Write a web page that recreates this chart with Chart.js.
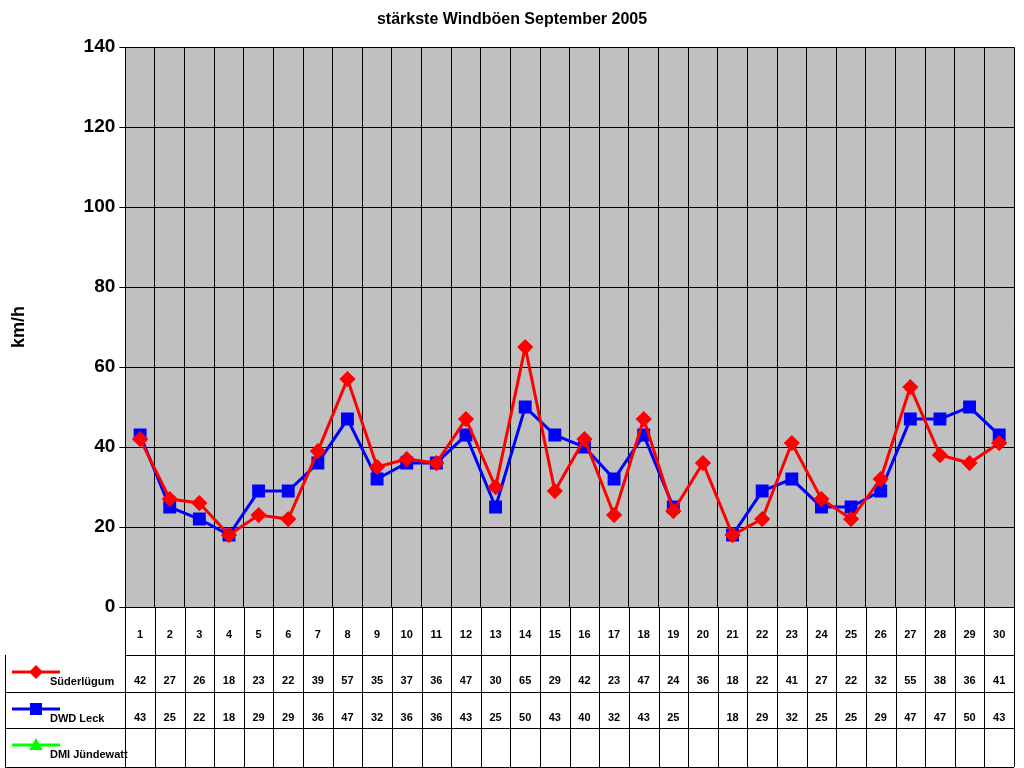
<!DOCTYPE html>
<html><head><meta charset="utf-8">
<script src="https://cdn.jsdelivr.net/npm/chart.js@4"></script>
<style>html,body{margin:0;padding:0;background:#fff}#w{width:1024px;height:768px}</style>
</head><body><div id="w"><canvas id="c"></canvas></div>
<script>
const days = ['1','2','3','4','5','6','7','8','9','10','11','12','13','14','15','16','17','18','19','20','21','22','23','24','25','26','27','28','29','30'];
const suederluegum = [42,27,26,18,23,22,39,57,35,37,36,47,30,65,29,42,23,47,24,36,18,22,41,27,22,32,55,38,36,41];
const dwdLeck = [43,25,22,18,29,29,36,47,32,36,36,43,25,50,43,40,32,43,25,null,18,29,32,25,25,29,47,47,50,43];
const dmiJuendewatt = days.map(()=>null);
const seriesNames = ['Süderlügum','DWD Leck','DMI Jündewatt'];
const yTicks = [0,20,40,60,80,100,120,140];
const FONT = '"Liberation Sans", Arial, sans-serif';

const bgPlugin = {id:'bg', beforeDraw(ch){const a=ch.chartArea,c=ch.ctx;c.save();c.fillStyle='#c0c0c0';c.fillRect(a.left,a.top,a.right-a.left,a.bottom-a.top);c.restore();}};
const tablePlugin = {id:'tbl', afterDraw(ch){
  const c=ch.ctx,a=ch.chartArea,x=ch.scales.x;
  const rows=[a.bottom, a.bottom+48, a.bottom+85, a.bottom+121, 767];
  c.save();c.strokeStyle='#000';c.lineWidth=1;
  c.beginPath();
  for(let i=1;i<rows.length;i++){c.moveTo(i===1?a.left:5,rows[i]+0.5);c.lineTo(a.right,rows[i]+0.5);}
  const w=(x.getPixelForValue(1)-x.getPixelForValue(0));
  for(let i=0;i<=days.length;i++){const px=Math.round(x.getPixelForValue(0)-w/2+i*w)+0.5;c.moveTo(px,rows[0]);c.lineTo(px,rows[4]);}
  c.moveTo(5.5,rows[1]);c.lineTo(5.5,rows[4]);
  c.stroke();
  c.font='bold 11px '+FONT;c.fillStyle='#000';c.textAlign='center';c.textBaseline='middle';
  const data=[suederluegum,dwdLeck,dmiJuendewatt];
  days.forEach((d,i)=>{const px=x.getPixelForValue(i);c.fillText(d,px,rows[0]+28);
    data.forEach((s,k)=>{if(s[i]!=null)c.fillText(String(s[i]),px,rows[k+1]+26);});});
  const cols=['#ff0000','#0000ff','#00ff00'];
  c.textAlign='left';
  for(let k=0;k<3;k++){const y=rows[k+1]+17;c.strokeStyle=cols[k];c.fillStyle=cols[k];c.lineWidth=3;
    c.beginPath();c.moveTo(12,y);c.lineTo(60,y);c.stroke();
    c.beginPath();
    if(k===0){c.moveTo(36,y-7);c.lineTo(43,y);c.lineTo(36,y+7);c.lineTo(29,y);}
    else if(k===1){c.rect(30,y-6,12,12);}
    else {c.moveTo(36,y-7);c.lineTo(43,y+5);c.lineTo(29,y+5);}
    c.closePath();c.fill();
    c.fillStyle='#000';c.font='bold 11px '+FONT;c.fillText(seriesNames[k],50,rows[k+1]+27);}
  c.restore();}};

new Chart(document.getElementById('c'),{
  type:'line',
  data:{labels:days,datasets:[
    {label:seriesNames[0],data:suederluegum,borderColor:'#ff0000',backgroundColor:'#ff0000',borderWidth:3,pointStyle:'rectRot',pointRadius:6,spanGaps:false},
    {label:seriesNames[1],data:dwdLeck,borderColor:'#0000ff',backgroundColor:'#0000ff',borderWidth:3,pointStyle:'rect',pointRadius:7,spanGaps:false},
    {label:seriesNames[2],data:dmiJuendewatt,borderColor:'#00ff00',backgroundColor:'#00ff00',borderWidth:3,pointStyle:'triangle',pointRadius:6}
  ]},
  options:{responsive:true,maintainAspectRatio:false,animation:false,
    layout:{padding:{left:4,right:4,top:0,bottom:161}},
    plugins:{legend:{display:false},tooltip:{enabled:false},
      title:{display:true,text:'stärkste Windböen September 2005',font:{family:FONT,size:16,weight:'bold'},color:'#000',padding:{top:10,bottom:18}}},
    scales:{
      x:{offset:true,grid:{offset:true,color:'#000',drawTicks:false},border:{color:'#000'},ticks:{display:false}},
      y:{min:0,max:140,afterBuildTicks(s){s.ticks=yTicks.map(v=>({value:v}));},
        grid:{color:'#000',drawTicks:true,tickLength:6},border:{color:'#000'},
        ticks:{font:{family:FONT,size:19,weight:'bold'},color:'#000',padding:4},
        title:{display:true,text:'km/h',font:{family:FONT,size:18,weight:'bold'},color:'#000',padding:{bottom:50}}}
    }},
  plugins:[bgPlugin,tablePlugin]
});
</script></body></html>
